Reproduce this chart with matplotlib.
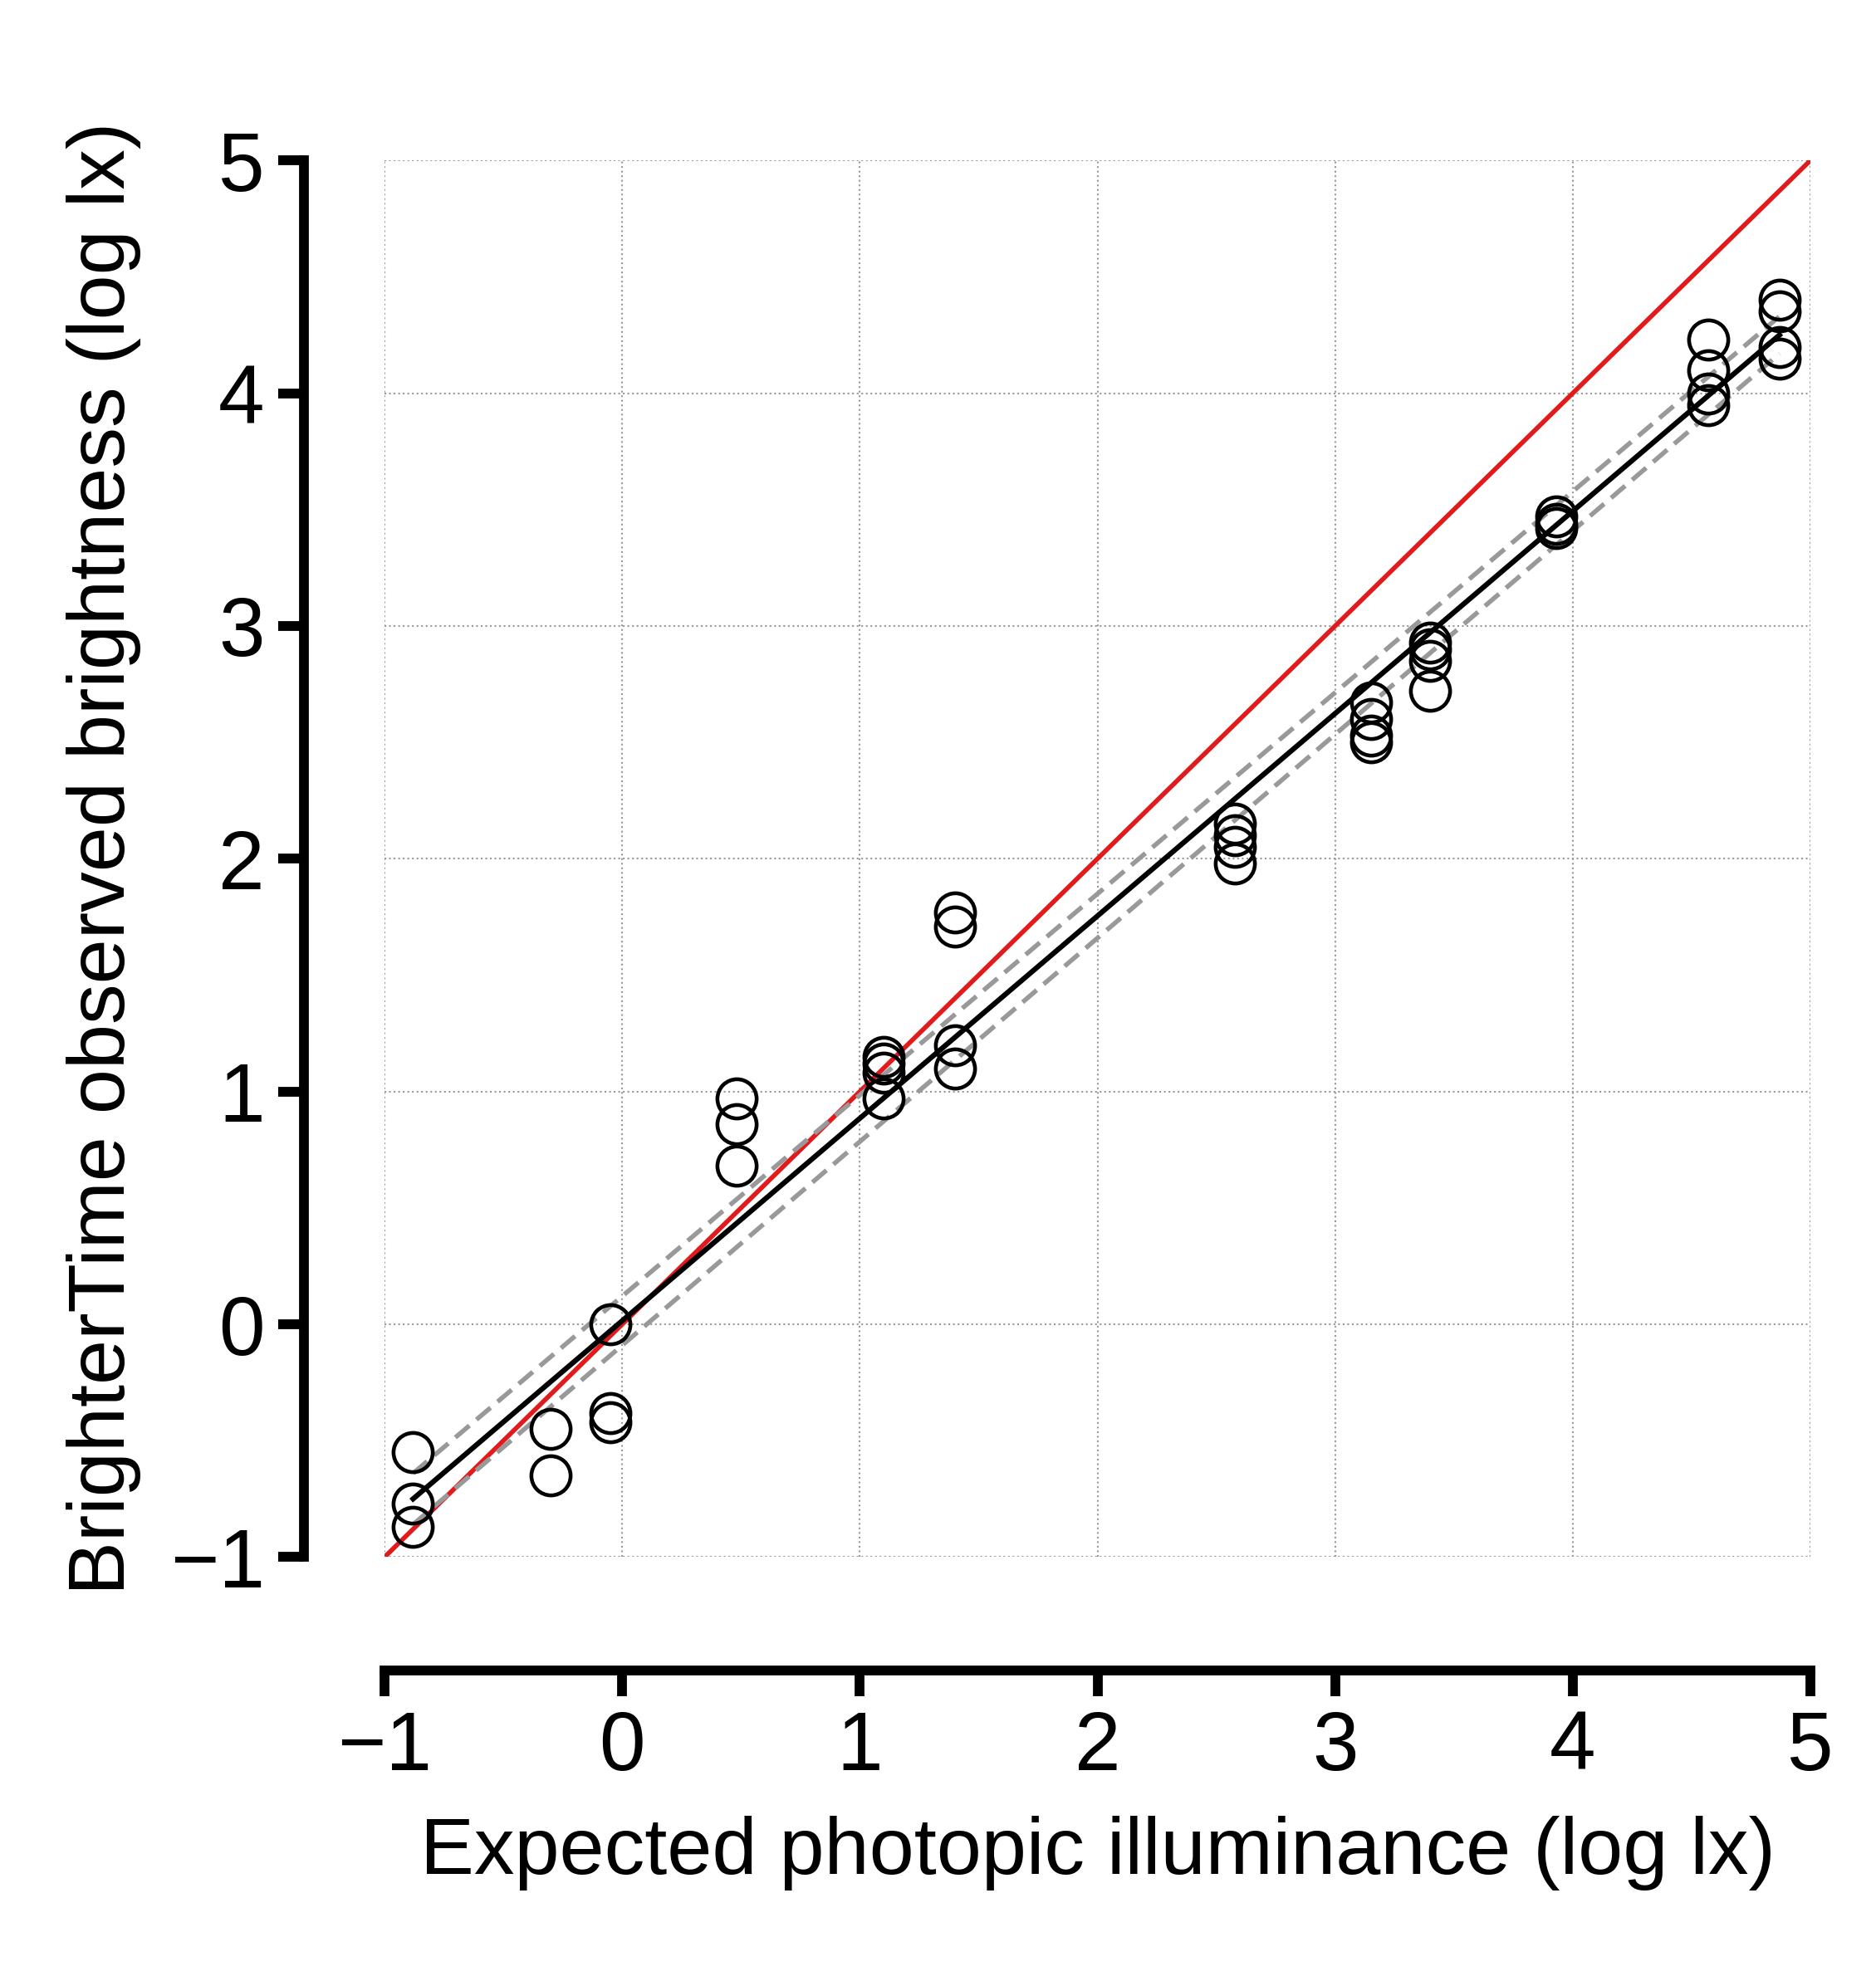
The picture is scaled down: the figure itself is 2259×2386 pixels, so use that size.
import matplotlib
matplotlib.use("Agg")
import matplotlib.pyplot as plt
import numpy as np

plt.rcParams['font.family'] = ['Liberation Sans', 'DejaVu Sans']

xs_groups = [-0.88, -0.30, -0.05, 0.48, 1.10, 1.40, 2.58, 3.15, 3.40, 3.93, 4.57, 4.87]
ys_groups = [
    [-0.55, -0.77, -0.87],
    [-0.45, -0.65],
    [0.00, -0.38, -0.42],
    [0.97, 0.86, 0.68],
    [1.15, 1.12, 1.08, 0.97],
    [1.77, 1.71, 1.20, 1.10],
    [2.15, 2.10, 2.05, 1.98],
    [2.67, 2.60, 2.53, 2.50],
    [2.93, 2.90, 2.85, 2.72],
    [3.47, 3.44, 3.42],
    [4.23, 4.10, 4.00, 3.95],
    [4.40, 4.35, 4.20, 4.15],
]
fit_x = [-0.88, 4.87]
fit_y = [-0.75, 4.25]
ci_upper_y = [-0.64, 4.33]
ci_lower_y = [-0.86, 4.17]
identity = [-1, 5]
ticks = [-1, 0, 1, 2, 3, 4, 5]
tick_labels = ["\u22121", "0", "1", "2", "3", "4", "5"]

fig = plt.figure(figsize=(22.59, 23.86), dpi=100)
ax = fig.add_axes([0.205, 0.214, 0.76, 0.705])

ax.grid(True, color="#999999", linestyle=":", linewidth=1.5)
ax.set_axisbelow(True)
ax.plot(identity, identity, color="#e31a1c", lw=4, zorder=2)
ax.plot(fit_x, ci_upper_y, color="#999999", lw=4, ls=(0, (4, 2)), zorder=3)
ax.plot(fit_x, ci_lower_y, color="#999999", lw=4, ls=(0, (4, 2)), zorder=3)
ax.plot(fit_x, fit_y, color="black", lw=4.5, zorder=4)
for x, ys in zip(xs_groups, ys_groups):
    ax.plot([x] * len(ys), ys, "o", mfc="none", mec="black", ms=34, mew=3.3, zorder=5)

ax.set_xlim(-1, 5)
ax.set_ylim(-1, 5)
ax.set_xticks(ticks)
ax.set_yticks(ticks)
ax.set_xticklabels(tick_labels)
ax.set_yticklabels(tick_labels)
for s in ["top", "right"]:
    ax.spines[s].set_visible(False)
ax.spines["left"].set_position(("outward", 70))
ax.spines["bottom"].set_position(("outward", 98))
for s in ["left", "bottom"]:
    ax.spines[s].set_linewidth(8.5)
ax.tick_params(width=8.5, length=22, pad=12, labelsize=72)
ax.set_xlabel("Expected photopic illuminance (log lx)", fontsize=70, labelpad=25)
ax.set_ylabel("BrighterTime observed brightness (log lx)", fontsize=70, labelpad=25)
fig.savefig("out.png", dpi=100)
